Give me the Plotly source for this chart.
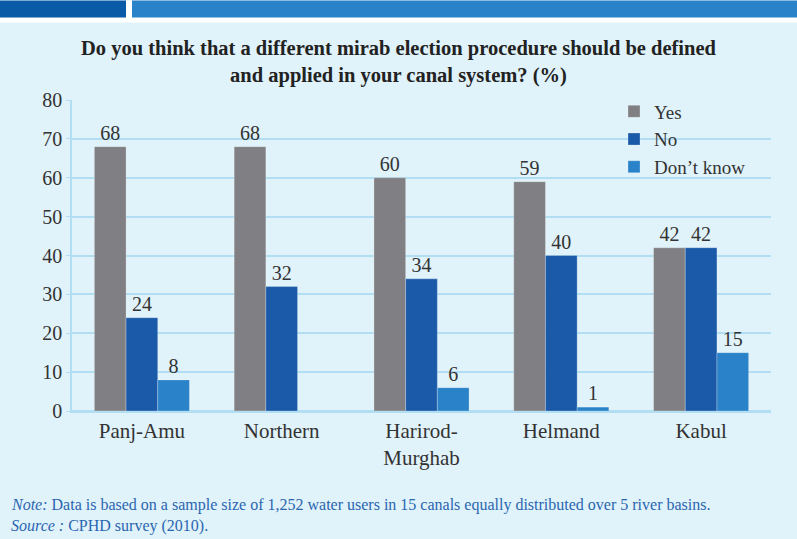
import plotly.graph_objects as go

# River basins and survey answers (%)
basins = ["Panj-Amu", "Northern", "Harirod-<br>Murghab", "Helmand", "Kabul"]
yes_vals = [68, 68, 60, 59, 42]
no_vals = [24, 32, 34, 40, 42]
dont_know_vals = [8, None, 6, 1, 15]
y_ticks = [0, 10, 20, 30, 40, 50, 60, 70, 80]

title_text = ("<b>Do you think that a different mirab election procedure should be defined"
              "<br>and applied in your canal system? (%)</b>")
note_text = "<i>Note:</i> Data is based on a sample size of 1,252 water users in 15 canals equally distributed over 5 river basins."
source_text = "<i>Source :</i> CPHD survey (2010)."

W, H = 797, 539
BG = "#e0f2fa"
GRID = "#b2def3"
TEXT = "#333333"
SERIF = "'Liberation Serif', 'Times New Roman', 'DejaVu Serif', serif"

# plot-area geometry in pixels
L, R, T, B = 72, 771, 99.5, 410.7


def px_x(px):
    return (px - L) / (R - L)


def px_y(py):
    return (B - py) / (B - T)


series = [
    ("Yes", yes_vals, "#808084"),
    ("No", no_vals, "#1a5aa8"),
    ("Don\u2019t know", dont_know_vals, "#2a82c8"),
]

fig = go.Figure()
for name, vals, color in series:
    fig.add_trace(go.Bar(
        name=name,
        x=basins,
        y=vals,
        marker=dict(color=color, line=dict(color="rgba(255,255,255,0.25)", width=1)),
        text=[("" if v is None else str(v)) for v in vals],
        textposition="outside",
        textfont=dict(family=SERIF, size=20, color=TEXT),
        cliponaxis=False,
    ))

shapes = [
    # white band behind the page header
    dict(type="rect", xref="paper", yref="paper",
         x0=px_x(0), x1=px_x(W), y0=px_y(22), y1=px_y(0),
         fillcolor="white", line_width=0, layer="below"),
    dict(type="rect", xref="paper", yref="paper",
         x0=px_x(0), x1=px_x(126), y0=px_y(17), y1=px_y(0),
         fillcolor="#0a5aa8", line_width=0),
    dict(type="rect", xref="paper", yref="paper",
         x0=px_x(132), x1=px_x(W), y0=px_y(17), y1=px_y(0),
         fillcolor="#2a82c8", line_width=0),
]

annotations = [
    dict(text=title_text, xref="paper", yref="paper",
         x=px_x(W / 2), y=px_y(61), xanchor="center", yanchor="middle",
         showarrow=False, align="center",
         font=dict(family=SERIF, size=20.5, color="#222222")),
    dict(text=note_text, xref="paper", yref="paper",
         x=px_x(9), y=px_y(505), xanchor="left", yanchor="middle",
         showarrow=False, font=dict(family=SERIF, size=16, color="#2a66b0")),
    dict(text=source_text, xref="paper", yref="paper",
         x=px_x(9), y=px_y(526), xanchor="left", yanchor="middle",
         showarrow=False, font=dict(family=SERIF, size=16, color="#2a66b0")),
]

fig.update_layout(
    width=W, height=H,
    margin=dict(l=L, r=W - R, t=T, b=H - B),
    paper_bgcolor=BG, plot_bgcolor=BG,
    barmode="group", bargap=0.32, bargroupgap=0,
    font=dict(family=SERIF, size=20, color=TEXT),
    showlegend=True,
    legend=dict(x=px_x(614), y=px_y(92), xanchor="left", yanchor="top",
                bgcolor="rgba(0,0,0,0)", font=dict(family=SERIF, size=19, color=TEXT),
                traceorder="normal"),
    shapes=shapes,
    annotations=annotations,
    xaxis=dict(showgrid=False, showline=True, linecolor=GRID, linewidth=1.5,
               ticks="", tickfont=dict(family=SERIF, size=21, color=TEXT)),
    yaxis=dict(range=[0, 80], tickvals=y_ticks, showgrid=True, gridcolor=GRID,
               gridwidth=1.5, zeroline=True, zerolinecolor=GRID, zerolinewidth=1.5,
               showline=True, linecolor=GRID, linewidth=1.5,
               ticks="outside", ticklen=4, tickcolor=GRID,
               tickfont=dict(family=SERIF, size=20, color=TEXT)),
)

fig.write_html("out.html")
